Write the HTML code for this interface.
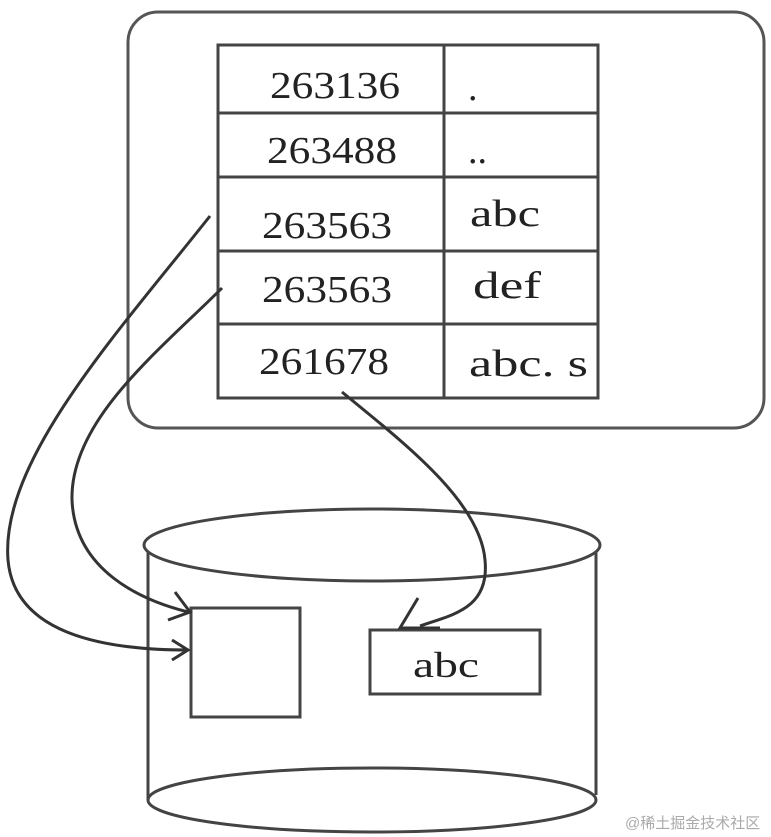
<!DOCTYPE html>
<html><head><style>
html,body{margin:0;padding:0;background:#fff;}
svg{display:block;}
text{font-family:"Liberation Serif",serif;fill:#222;}
</style></head><body>
<svg width="771" height="837" viewBox="0 0 771 837" xmlns="http://www.w3.org/2000/svg">
<rect x="128" y="12" width="636" height="416" rx="30" fill="#fff" stroke="#555" stroke-width="3"/>
<g stroke="#444" stroke-width="3" fill="none">
<rect x="218" y="45" width="380" height="353"/>
<line x1="444" y1="45" x2="444" y2="398"/>
<line x1="218" y1="113" x2="598" y2="113"/>
<line x1="218" y1="177" x2="598" y2="177"/>
<line x1="218" y1="251" x2="598" y2="251"/>
<line x1="218" y1="324" x2="598" y2="324"/>
</g>
<g font-size="38">
<text x="270" y="98" textLength="130" lengthAdjust="spacingAndGlyphs">263136</text>
<text x="267" y="163" textLength="130" lengthAdjust="spacingAndGlyphs">263488</text>
<text x="262" y="238" textLength="130" lengthAdjust="spacingAndGlyphs">263563</text>
<text x="262" y="302" textLength="130" lengthAdjust="spacingAndGlyphs">263563</text>
<text x="259" y="374" textLength="130" lengthAdjust="spacingAndGlyphs">261678</text>
<text x="468" y="100">.</text>
<text x="468" y="163">..</text>
<text x="470" y="226" textLength="70" lengthAdjust="spacingAndGlyphs">abc</text>
<text x="473" y="298" textLength="68" lengthAdjust="spacingAndGlyphs">def</text>
<text x="469" y="376" textLength="119" lengthAdjust="spacingAndGlyphs">abc. s</text>
</g>
<g stroke="#444" stroke-width="3" fill="none">
<line x1="148" y1="545" x2="148" y2="800"/>
<line x1="596" y1="545" x2="596" y2="795"/>
<ellipse cx="372" cy="800" rx="224" ry="32" fill="#fff"/>
<ellipse cx="372" cy="545" rx="228" ry="36" fill="#fff"/>
<rect x="191" y="608" width="109" height="109" fill="#fff"/>
<rect x="370" y="630" width="170" height="64" fill="#fff"/>
</g>
<text x="413" y="677" font-size="36" textLength="66" lengthAdjust="spacingAndGlyphs">abc</text>
<g stroke="#333" stroke-width="3" fill="none">
<path d="M210,216 C120,330 0,460 8,560 C15,640 120,650 188,650"/>
<path d="M172,640 L188,650 L172,660"/>
<path d="M222,288 C160,350 70,420 72,500 C75,570 140,600 188,612"/>
<path d="M175,592 L190,612 L168,620"/>
<path d="M342,392 C400,440 480,500 485,560 C490,610 450,615 420,626"/>
<path d="M418,598 L400,628 L440,628"/>
</g>
<text x="625" y="828" font-size="15" style="font-family:'Liberation Sans','Noto Sans CJK SC',sans-serif;fill:#aaa">@稀土掘金技术社区</text>
</svg>
</body></html>
